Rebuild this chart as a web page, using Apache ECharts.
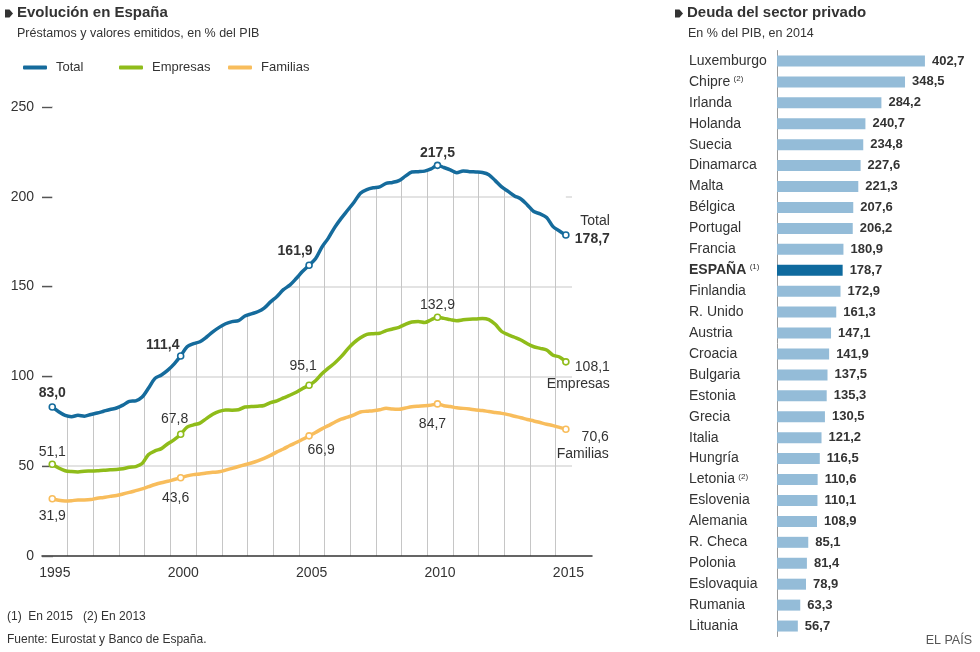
<!DOCTYPE html>
<html>
<head>
<meta charset="utf-8">
<script src="https://cdn.jsdelivr.net/npm/echarts/dist/echarts.min.js"></script>
<style>
    html, body { margin: 0; padding: 0; background: #fff; }
    #main { width: 980px; height: 652px; }
</style>
</head>
<body>
<div id="main"></div>
<script>
// Evolución en España, % del PIB (trimestral, desde 1995 T2)
var total = [83.0, 80.3, 78.3, 77.6, 78.3, 77.8, 78.8, 79.6, 80.6, 81.6,
    82.4, 84.0, 86.1, 86.4, 88.5, 93.5, 98.9, 100.8, 103.5, 107.0,
    111.4, 116.5, 118.2, 119.3, 121.8, 124.8, 127.3, 129.3, 130.5, 131.0,
    133.6, 134.8, 136.0, 138.0, 141.5, 144.5, 148.3, 150.8, 154.5, 158.5,
    161.9, 165.5, 172.0, 177.0, 183.0, 188.0, 192.5, 197.0, 202.0, 204.0,
    205.0, 205.5, 207.5, 208.0, 209.0, 211.5, 213.8, 214.0, 214.3, 215.5,
    217.5, 216.3, 215.0, 213.4, 214.4, 214.0, 213.8, 213.5, 212.3, 209.0,
    205.5, 203.0, 200.5, 198.8, 195.5, 191.8, 190.5, 188.5, 183.4, 181.0,
    178.7];
var empresas = [51.1, 49.0, 47.5, 47.0, 46.8, 47.2, 47.3, 47.5, 47.8, 48.0,
    48.2, 48.6, 49.4, 49.8, 51.5, 56.5, 58.5, 59.8, 62.5, 64.8,
    67.8, 71.8, 73.0, 74.0, 76.5, 78.9, 80.5, 81.3, 81.2, 81.4,
    83.0, 83.2, 83.4, 83.8, 85.4, 86.4, 88.0, 89.5, 91.2, 93.3,
    95.1, 97.6, 101.5, 104.6, 107.5, 111.0, 115.2, 118.8, 121.5, 123.4,
    123.8, 124.0, 125.5, 126.4, 127.3, 129.0, 130.3, 130.6, 130.0, 131.5,
    132.9, 132.3, 131.6, 131.0, 131.5, 131.8, 132.0, 132.3, 131.6, 129.0,
    125.0, 123.2, 121.8, 120.3, 118.2, 116.5, 115.6, 114.7, 111.8, 110.8,
    108.1];
var familias = [31.9, 31.0, 30.6, 30.8, 31.2, 31.2, 31.4, 32.2, 32.6, 33.2,
    33.7, 34.5, 35.4, 36.4, 37.4, 38.6, 39.8, 40.8, 41.6, 42.6,
    43.6, 44.6, 45.3, 45.6, 46.2, 46.6, 46.9, 47.8, 48.8, 49.8,
    50.8, 51.8, 53.0, 54.4, 56.0, 58.0, 59.6, 61.5, 63.2, 65.0,
    66.9, 68.8, 70.8, 72.6, 74.5, 76.2, 77.3, 78.6, 80.2, 80.6,
    80.9, 81.4, 82.2, 81.8, 81.7, 82.4, 83.1, 83.4, 83.6, 84.0,
    84.7, 83.7, 83.2, 82.5, 82.2, 81.8, 81.3, 81.0, 80.4, 79.9,
    79.4, 78.7, 77.8, 77.0, 76.0, 75.2, 74.3, 73.4, 72.6, 71.6,
    70.6];
var anios = [1995, 2000, 2005, 2010, 2015];

// Deuda del sector privado, % del PIB en 2014
var paises = ['Luxemburgo', 'Chipre', 'Irlanda', 'Holanda', 'Suecia', 'Dinamarca', 'Malta',
    'Bélgica', 'Portugal', 'Francia', 'ESPAÑA', 'Finlandia', 'R. Unido', 'Austria',
    'Croacia', 'Bulgaria', 'Estonia', 'Grecia', 'Italia', 'Hungría', 'Letonia',
    'Eslovenia', 'Alemania', 'R. Checa', 'Polonia', 'Eslovaquia', 'Rumania', 'Lituania'];
var deuda = [402.7, 348.5, 284.2, 240.7, 234.8, 227.6, 221.3, 207.6, 206.2, 180.9, 178.7,
    172.9, 161.3, 147.1, 141.9, 137.5, 135.3, 130.5, 121.2, 116.5, 110.6, 110.1,
    108.9, 85.1, 81.4, 78.9, 63.3, 56.7];
var notas = { 'Chipre': '(2)', 'Letonia': '(2)', 'ESPAÑA': '(1)' };

var FONT = '"Liberation Sans", Arial, sans-serif';
var AZUL = '#156b9c', VERDE = '#8fbc1a', NARANJA = '#f8bd5c';

// posicion de cada trimestre en el eje (años decimales)
var periodos = [];
for (var i = 0; i < total.length; i++) periodos.push(1995.4 + i * 0.25);

var pxAnio = 25.68; // px por año
function fmt(v) { return v.toFixed(1).replace('.', ','); }

function puntos(valores, color, etiquetas, negrita) {
    return valores.map(function (v, i) {
        var e = etiquetas[i];
        if (!e) return [periodos[i], v];
        var label = {
            show: true, position: 'inside', offset: e.offset,
            color: '#333', fontSize: 14, fontFamily: FONT,
            fontWeight: negrita ? 'bold' : 'normal',
            formatter: fmt(v)
        };
        if (e.nombre) {
            label.align = 'right';
            label.formatter = e.arriba
                ? '{n|' + e.nombre + '}\n{v|' + fmt(v) + '}'
                : '{v|' + fmt(v) + '}\n{n|' + e.nombre + '}';
            label.rich = {
                n: { fontSize: 14, fontFamily: FONT, color: '#333', fontWeight: 'normal', lineHeight: e.lh },
                v: { fontSize: 14, fontFamily: FONT, color: '#333', lineHeight: e.lh,
                     fontWeight: negrita ? 'bold' : 'normal' }
            };
        }
        return {
            value: [periodos[i], v], symbol: 'circle', symbolSize: 6,
            itemStyle: { color: '#fff', borderColor: color, borderWidth: 1.6 },
            label: label
        };
    });
}

var etTotal = {
    0: { offset: [0, -14] }, 20: { offset: [-18, -11] }, 40: { offset: [-14, -14] },
    60: { offset: [0, -12] }, 80: { nombre: 'Total', arriba: true, lh: 18, offset: [44, -5] }
};
var etEmpresas = {
    0: { offset: [0, -12] }, 20: { offset: [-6, -15] }, 40: { offset: [-6, -19] },
    60: { offset: [0, -12] }, 80: { nombre: 'Empresas', lh: 17, offset: [44, 13.5] }
};
var etFamilias = {
    0: { offset: [0, 17] }, 20: { offset: [-5, 20] }, 40: { offset: [12, 14] },
    60: { offset: [-5, 20] }, 80: { nombre: 'Familias', lh: 17, offset: [43, 16.5] }
};

function serieLinea(nombre, valores, color, etiquetas, negrita) {
    return {
        name: nombre, type: 'line', xAxisIndex: 0, yAxisIndex: 0, z: 3,
        symbol: 'none', smooth: 0.3, silent: true,
        itemStyle: { color: color },
        lineStyle: { color: color, width: 3.5, cap: 'round', join: 'round' },
        data: puntos(valores, color, etiquetas, negrita)
    };
}

function texto(x, y, t, font, fill, align) {
    return { type: 'text', x: x, y: y, silent: true,
        style: { text: t, font: font, fill: fill || '#333', align: align || 'left', verticalAlign: 'middle' } };
}
function vineta(x) {
    return { type: 'polygon', silent: true,
        shape: { points: [[x, 9.5], [x + 4.5, 9.5], [x + 8, 13.5], [x + 4.5, 17.5], [x, 17.5]] },
        style: { fill: '#333' } };
}

var myChart = echarts.init(document.getElementById('main'));
var option = {
    animation: false,
    graphic: [
        vineta(5),
        texto(17, 13, 'Evolución en España', 'bold 15px ' + FONT),
        texto(17, 34, 'Préstamos y valores emitidos, en % del PIB', '12.5px ' + FONT),
        vineta(675),
        texto(687, 13, 'Deuda del sector privado', 'bold 15px ' + FONT),
        texto(688, 34, 'En % del PIB, en 2014', '12.5px ' + FONT),
        texto(7, 617, '(1)  En 2015   (2) En 2013', '12px ' + FONT),
        texto(7, 640, 'Fuente: Eurostat y Banco de España.', '12px ' + FONT),
        texto(972, 641, 'EL PAÍS', '12.5px ' + FONT, '#555', 'right')
    ],
    legend: ['Total', 'Empresas', 'Familias'].map(function (n, i) {
        return {
            data: [{ name: n, icon: 'roundRect' }], left: [18, 114, 223][i], top: 56,
            itemWidth: 24, itemHeight: 4, selectedMode: false,
            textStyle: { fontSize: 13, fontFamily: FONT, color: '#333', padding: [0, 0, 0, 4] }
        };
    }),
    grid: [
        { left: 42, top: 107, width: 550, height: 449 },
        { left: 42, top: 107, width: 530, height: 449 },
        { left: 777, top: 50.5, width: 180, height: 586 }
    ],
    xAxis: [
        {
            type: 'value', gridIndex: 0, z: 1, min: 1995, max: 1995 + 550 / pxAnio, interval: 5,
            axisLine: { show: true, lineStyle: { color: '#333', width: 1.5 } },
            axisTick: { show: false },
            splitLine: { show: false },
            axisLabel: {
                customValues: anios.map(function (a) { return a + 0.5; }),
                formatter: function (v) { return Math.floor(v); },
                fontSize: 14, fontFamily: FONT, color: '#333', margin: 10
            }
        },
        {
            type: 'value', gridIndex: 1, min: 1995, max: 1995 + 530 / pxAnio, interval: 1,
            axisLine: { show: false }, axisTick: { show: false }, axisLabel: { show: false },
            splitLine: { show: true, showMinLine: false, showMaxLine: false,
                lineStyle: { color: '#c6c6c6', width: 1 } }
        },
        { type: 'value', gridIndex: 2, min: 0, max: 490, show: false }
    ],
    yAxis: [
        {
            type: 'value', gridIndex: 0, z: 1, min: 0, max: 250, interval: 50,
            axisLine: { show: false },
            axisTick: { show: true, inside: true, length: 11, lineStyle: { color: '#555', width: 1.4 } },
            splitLine: { show: false },
            axisLabel: { fontSize: 14, fontFamily: FONT, color: '#333', margin: 8 }
        },
        {
            type: 'value', gridIndex: 1, min: 0, max: 250, interval: 50,
            axisLine: { show: false }, axisTick: { show: false }, axisLabel: { show: false },
            splitLine: { show: true, showMinLine: false, showMaxLine: false,
                lineStyle: { color: '#dadada', width: 1.5 } }
        },
        {
            type: 'category', gridIndex: 2, data: paises, inverse: true,
            axisLine: { show: true, lineStyle: { color: '#9a9a9a', width: 1 } },
            axisTick: { show: false },
            axisLabel: {
                align: 'left', margin: 88,
                formatter: function (n) {
                    var s = notas[n] ? ' {s|' + notas[n] + '}' : '';
                    return (n === 'ESPAÑA' ? '{b|' + n + '}' : '{n|' + n + '}') + s;
                },
                rich: {
                    n: { fontSize: 14, fontFamily: FONT, color: '#333' },
                    b: { fontSize: 14, fontFamily: FONT, color: '#333', fontWeight: 'bold' },
                    s: { fontSize: 8, fontFamily: FONT, color: '#333', padding: [0, 0, 6, 0] }
                }
            }
        }
    ],
    series: [
        // mascara blanca sobre el total: oculta la reticula por encima de la curva
        {
            name: 'mascara', type: 'line', xAxisIndex: 0, yAxisIndex: 0, z: 2,
            symbol: 'none', smooth: 0.3, silent: true,
            lineStyle: { width: 0, opacity: 0 },
            areaStyle: { color: '#fff', opacity: 1, origin: 'end' },
            data: total.map(function (v, i) { return [periodos[i], v]; })
        },
        serieLinea('Familias', familias, NARANJA, etFamilias, false),
        serieLinea('Empresas', empresas, VERDE, etEmpresas, false),
        serieLinea('Total', total, AZUL, etTotal, true),
        {
            name: 'Deuda', type: 'bar', xAxisIndex: 2, yAxisIndex: 2, barWidth: 11, silent: true,
            itemStyle: { color: '#94bcd8' },
            label: { show: true, position: 'right', distance: 7, fontSize: 13, fontFamily: FONT,
                fontWeight: 'bold', color: '#333', formatter: function (p) { return fmt(p.value); } },
            data: deuda.map(function (v, i) {
                return paises[i] === 'ESPAÑA' ? { value: v, itemStyle: { color: '#0f6a9e' } } : v;
            })
        }
    ]
};
myChart.setOption(option);
</script>
</body>
</html>
